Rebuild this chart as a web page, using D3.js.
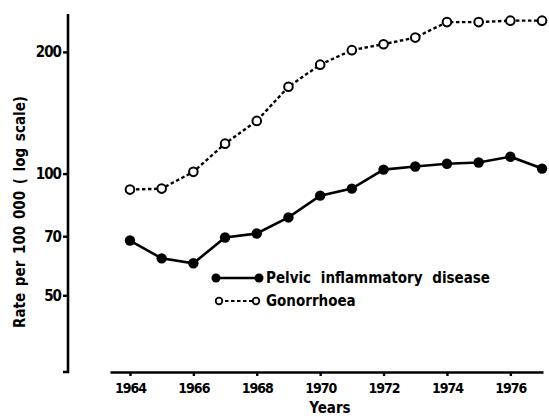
<!DOCTYPE html>
<html>
<head>
<meta charset="utf-8">
<script src="https://cdn.jsdelivr.net/npm/d3@7"></script>
<style>
  body { margin: 0; background: #fff; }
  svg { display: block; }
  text { font-family: "DejaVu Sans Condensed", "DejaVu Sans", sans-serif; fill: #000; }
</style>
</head>
<body>
<div class="view"></div>
<script>
var years = [1964, 1965, 1966, 1967, 1968, 1969, 1970, 1971, 1972, 1973, 1974, 1975, 1976, 1977];
var pidRates = [68.3, 61.7, 60.0, 69.5, 71.1, 77.9, 88.2, 91.8, 102.3, 104.1, 105.8, 106.5, 110.1, 102.9];
var gonoRates = [91.3, 91.8, 101, 118.6, 135, 164, 186, 202, 209, 217, 237, 237, 239, 239];
var xTicks = [1964, 1966, 1968, 1970, 1972, 1974, 1976];
var yTicks = [50, 70, 100, 200];
var seriesNames = ["Pelvic inflammatory disease", "Gonorrhoea"];

var width = 549;
var height = 417;

var svg = d3.select('.view')
  .append('svg')
  .attr('width', width)
  .attr('height', height);

var x = d3.scaleLinear()
  .domain([1963.37, 1977.03])
  .range([110, 543]);

var y = d3.scaleLog()
  .domain([32.3, 248.2])
  .range([372, 14]);

// y axis
var yAxis = svg.append("g")
  .attr("transform", "translate(68,0)")
  .call(d3.axisLeft(y).tickValues(yTicks).tickFormat(d3.format("d")).tickSize(5).tickSizeOuter(0).tickPadding(2));
yAxis.select(".domain")
  .attr("d", "M-5," + y.range()[0] + "H0V" + y.range()[1])
  .attr("stroke", "#000")
  .attr("stroke-width", 2.6);
yAxis.selectAll(".tick line").attr("stroke-width", 2.4);
yAxis.selectAll(".tick text")
  .style("font-size", "15px")
  .style("font-weight", "bold")
  .style("letter-spacing", "-1px");

// x axis
var xAxis = svg.append("g")
  .attr("transform", "translate(0,372)")
  .call(d3.axisBottom(x).tickValues(xTicks).tickFormat(d3.format("d")).tickSize(4).tickSizeOuter(0).tickPadding(7));
xAxis.select(".domain")
  .attr("stroke", "#000")
  .attr("stroke-width", 2.6);
xAxis.selectAll(".tick line").attr("stroke-width", 2.4);
xAxis.selectAll(".tick text")
  .style("font-size", "14px")
  .style("font-weight", "bold")
  .style("letter-spacing", "-1px");

svg.append("text")
  .attr("x", 330)
  .attr("y", 413)
  .attr("text-anchor", "middle")
  .style("font-size", "15px")
  .style("font-weight", "bold")
  .text("Years");

svg.append("text")
  .attr("transform", "translate(25,212) rotate(-90)")
  .attr("text-anchor", "middle")
  .style("font-size", "15px")
  .style("font-weight", "bold")
  .style("word-spacing", "2px")
  .text("Rate per 100 000 ( log scale)");

// lines
var pid = years.map(function(d, i) { return { year: d, rate: pidRates[i] }; });
var gono = years.map(function(d, i) { return { year: d, rate: gonoRates[i] }; });

var line = d3.line()
  .x(function(d) { return x(d.year); })
  .y(function(d) { return y(d.rate); });

svg.append("path")
  .datum(gono)
  .attr("fill", "none")
  .attr("stroke", "#000")
  .attr("stroke-width", 2.4)
  .attr("stroke-dasharray", "3.5,2.5")
  .attr("d", line);

svg.append("path")
  .datum(pid)
  .attr("fill", "none")
  .attr("stroke", "#000")
  .attr("stroke-width", 2.6)
  .attr("d", line);

svg.selectAll(".gono")
  .data(gono)
  .enter()
  .append("circle")
  .attr("class", "gono")
  .attr("cx", function(d) { return x(d.year); })
  .attr("cy", function(d) { return y(d.rate); })
  .attr("r", 4.3)
  .attr("fill", "#fff")
  .attr("stroke", "#000")
  .attr("stroke-width", 2);

svg.selectAll(".pid")
  .data(pid)
  .enter()
  .append("circle")
  .attr("class", "pid")
  .attr("cx", function(d) { return x(d.year); })
  .attr("cy", function(d) { return y(d.rate); })
  .attr("r", 5.2)
  .attr("fill", "#000");

// legend
var legend = svg.append("g");

legend.append("line")
  .attr("x1", 216).attr("x2", 259)
  .attr("y1", 278).attr("y2", 278)
  .attr("stroke", "#000")
  .attr("stroke-width", 2.6);
legend.selectAll(".lp")
  .data([216, 259])
  .enter()
  .append("circle")
  .attr("cx", function(d) { return d; })
  .attr("cy", 278)
  .attr("r", 4.5)
  .attr("fill", "#000");

legend.append("line")
  .attr("x1", 219).attr("x2", 256)
  .attr("y1", 301).attr("y2", 301)
  .attr("stroke", "#000")
  .attr("stroke-width", 2)
  .attr("stroke-dasharray", "3.5,2.5");
legend.selectAll(".lg")
  .data([219, 256])
  .enter()
  .append("circle")
  .attr("cx", function(d) { return d; })
  .attr("cy", 301)
  .attr("r", 3.3)
  .attr("fill", "#fff")
  .attr("stroke", "#000")
  .attr("stroke-width", 1.8);

legend.selectAll(".lt")
  .data(seriesNames)
  .enter()
  .append("text")
  .attr("x", 266)
  .attr("y", function(d, i) { return 278 + i * 23; })
  .attr("dy", "0.35em")
  .style("font-size", "15px")
  .style("font-weight", "bold")
  .style("word-spacing", "5px")
  .text(function(d) { return d; });
</script>
</body>
</html>
